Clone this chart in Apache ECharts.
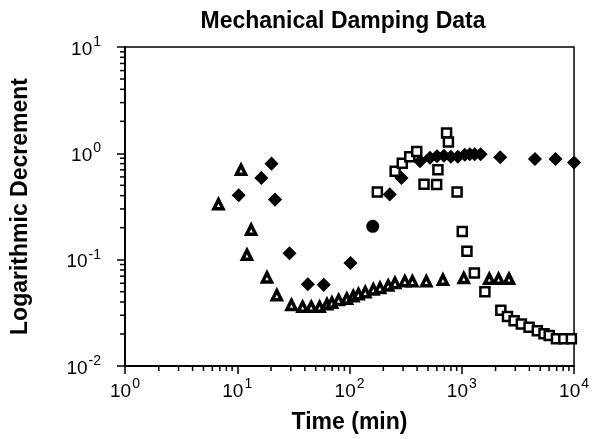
<!DOCTYPE html>
<html>
<head>
<meta charset="utf-8">
<script src="https://cdn.jsdelivr.net/npm/echarts@6/dist/echarts.min.js"></script>
<style>html,body{margin:0;padding:0;background:#fff}#c{width:592px;height:439px}</style>
</head>
<body>
<div id="c"></div>
<script>
// Data (time in min, logarithmic decrement)
const triangleTime = [6.8, 10.8, 13.3, 12.2, 18.4, 22.5, 30.4, 38.2, 45.6, 54.1, 63, 69.7, 80, 94.6, 108, 120, 138, 163, 187, 221, 254, 311, 363, 483, 679, 1042, 1758, 2125, 2633];
const triangleDec  = [0.332, 0.70, 0.191, 0.111, 0.068, 0.0464, 0.0375, 0.036, 0.036, 0.036, 0.0381, 0.0394, 0.0417, 0.0429, 0.0454, 0.0474, 0.0495, 0.0524, 0.0542, 0.0571, 0.0604, 0.0626, 0.0626, 0.0626, 0.0648, 0.0671, 0.066, 0.066, 0.066];

const diamondTime = [10.3, 16.4, 20.2, 21.7, 29.2, 42.5, 58.9, 102, 228, 290, 425, 521, 601, 693, 800, 922, 1063, 1178, 1303, 1472, 2199, 4487, 6836, 10000];
const diamondDec  = [0.403, 0.587, 0.80, 0.367, 0.115, 0.0587, 0.058, 0.093, 0.411, 0.587, 0.843, 0.908, 0.938, 0.948, 0.929, 0.929, 0.969, 0.979, 0.979, 0.979, 0.919, 0.885, 0.885, 0.82];

const circleTime = [161];
const circleDec  = [0.206];

const squareTime = [177, 255, 295, 344, 397, 461, 597, 613, 732, 760, 908, 1010, 1112, 1295, 1607, 2228, 2553, 2925, 3394, 3972, 4707, 5397, 6010, 6972, 8110, 9465];
const squareDec  = [0.433, 0.677, 0.807, 0.931, 1.04, 0.511, 0.508, 0.70, 1.55, 1.28, 0.433, 0.184, 0.12, 0.075, 0.050, 0.0334, 0.0292, 0.0267, 0.0248, 0.0231, 0.0215, 0.0201, 0.0194, 0.018, 0.018, 0.018];

const xMin = 1, xMax = 10000, yMin = 0.01, yMax = 10;

function zip(a, b) { return a.map((v, i) => [v, b[i]]); }
function minorVals(lo, hi) {
  const out = [];
  for (let d = lo; d < hi; d *= 10) for (let m = 2; m <= 9; m++) out.push(m * d);
  return out;
}
// [value, which-axis]  0 = x axis, 1 = y axis
const minorTicks = minorVals(xMin, xMax).map(v => [v, 0]).concat(minorVals(yMin, yMax).map(v => [v, 1]));

const FONT = '"Liberation Sans", Arial, Helvetica, sans-serif';
function powLabel(v) {
  const e = Math.round(Math.log10(v));
  return '{b|10}{s|' + e + '}';
}
const richLbl = {
  b: { fontSize: 19, fontFamily: FONT, color: '#000', lineHeight: 24, verticalAlign: 'bottom' },
  s: { fontSize: 14, fontFamily: FONT, color: '#000', lineHeight: 24, verticalAlign: 'top', padding: [0, 0, 0, 1] }
};

const chart = echarts.init(document.getElementById('c'), null, { renderer: 'canvas' });
chart.setOption({
  animation: false,
  backgroundColor: '#fff',
  title: {
    text: 'Mechanical Damping Data',
    left: 338, textAlign: 'center', top: 5,
    textStyle: { fontFamily: FONT, fontWeight: 'bold', fontSize: 23, color: '#000' }
  },
  grid: { left: 125, right: 15, top: 47, bottom: 68, show: true, borderColor: '#000', borderWidth: 1.5, backgroundColor: 'transparent' },
  xAxis: {
    type: 'log', logBase: 10, min: xMin, max: xMax,
    name: 'Time (min)', nameLocation: 'middle', nameGap: 45,
    nameTextStyle: { fontFamily: FONT, fontWeight: 'bold', fontSize: 23, color: '#000' },
    axisLine: { lineStyle: { color: '#000', width: 2 } },
    axisTick: { show: true, length: 8, lineStyle: { color: '#000', width: 1.5 } },
    axisLabel: { formatter: powLabel, rich: richLbl, margin: 11 },
    splitLine: { show: false }, minorTick: { show: false }
  },
  yAxis: {
    type: 'log', logBase: 10, min: yMin, max: yMax,
    name: 'Logarithmic Decrement', nameLocation: 'middle', nameGap: 93,
    nameTextStyle: { fontFamily: FONT, fontWeight: 'bold', fontSize: 23, color: '#000' },
    axisLine: { lineStyle: { color: '#000', width: 2 } },
    axisTick: { show: true, length: 8, lineStyle: { color: '#000', width: 1.5 } },
    axisLabel: { formatter: powLabel, rich: richLbl, margin: 24 },
    splitLine: { show: false }, minorTick: { show: false }
  },
  series: [
    { type: 'custom', silent: true, clip: false, data: minorTicks, z: 1,
      renderItem: function (params, api) {
        const v = api.value(0), which = api.value(1);
        if (which === 0) {
          const p = api.coord([v, yMin]);
          return { type: 'line', shape: { x1: p[0], y1: p[1], x2: p[0], y2: p[1] + 5 }, style: { stroke: '#000', lineWidth: 1.5 } };
        }
        const p = api.coord([xMin, v]);
        return { type: 'line', shape: { x1: p[0] - 5, y1: p[1], x2: p[0], y2: p[1] }, style: { stroke: '#000', lineWidth: 1.5 } };
      }
    },
    { name: 'triangle', type: 'scatter', data: zip(triangleTime, triangleDec), symbol: 'triangle', symbolSize: 9,
      itemStyle: { color: '#fff', borderColor: '#000', borderWidth: 3.5, opacity: 1 }, z: 3 },
    { name: 'diamond', type: 'scatter', data: zip(diamondTime, diamondDec), symbol: 'diamond', symbolSize: 12,
      itemStyle: { color: '#000', borderColor: '#000', borderWidth: 1.5, opacity: 1 }, z: 4 },
    { name: 'circle', type: 'scatter', data: zip(circleTime, circleDec), symbol: 'circle', symbolSize: 13,
      itemStyle: { color: '#000', opacity: 1 }, z: 4 },
    { name: 'square', type: 'scatter', data: zip(squareTime, squareDec), symbol: 'rect', symbolSize: 9,
      itemStyle: { color: '#fff', borderColor: '#000', borderWidth: 2.5, opacity: 1 }, z: 5 }
  ]
});
</script>
</body>
</html>
